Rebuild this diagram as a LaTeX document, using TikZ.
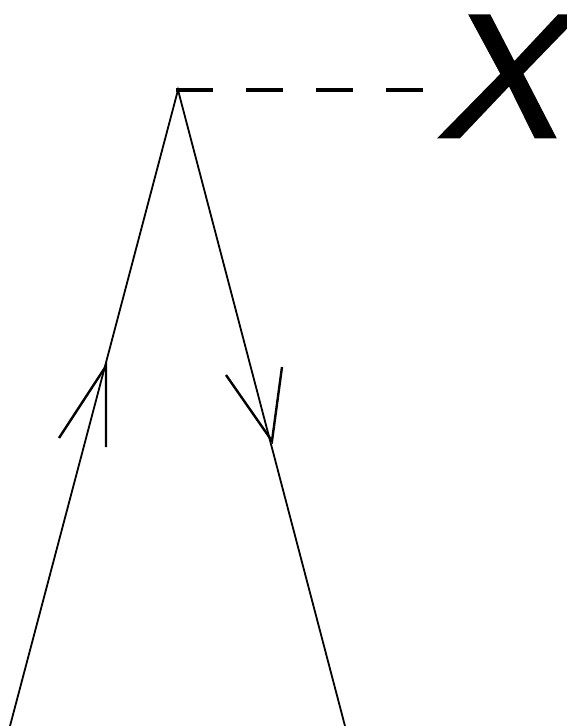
\documentclass[tikz,border=0pt]{standalone}
\usepackage{fontspec}
\newfontfamily\xfont[FakeSlant=0.22,FakeBold=1.6,FakeStretch=1.04]{Liberation Sans}
\begin{document}
\begin{tikzpicture}[x=1pt,y=-1pt,
  mainline/.style={line width=1.8pt,black},
  barb/.style={line width=2.4pt,black,line cap=butt},
  dashline/.style={line width=3.6pt,black,dash pattern=on 37pt off 33pt},
  biglabel/.style={inner sep=0pt,font=\fontsize{176}{176}\xfont}]
\useasboundingbox (0,0) rectangle (566,726);
\coordinate (apex) at (178,90);
\coordinate (lend) at (10,726);
\coordinate (rend) at (345,726);
\coordinate (ltip) at (106,366);
\coordinate (lb1) at (106,447);
\coordinate (lb2) at (59,438);
\coordinate (rtip) at (272,441);
\coordinate (rb1) at (226,375);
\coordinate (rb2) at (282,367);
\coordinate (dstart) at (176,90);
\coordinate (dend) at (425,90);
\node[biglabel,anchor=base west] (xl) at (436,137) {X};
\draw[mainline] (lend) -- (apex) -- (rend);
\draw[barb] (lb1) -- (ltip) -- (lb2);
\draw[barb] (rb1) -- (rtip) -- (rb2);
\draw[dashline] (dstart) -- (dend);
\end{tikzpicture}
\end{document}
